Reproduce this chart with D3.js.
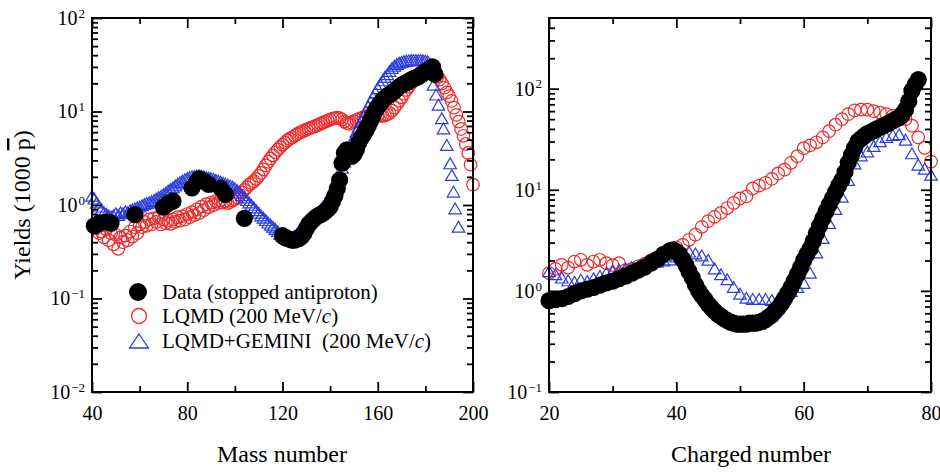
<!DOCTYPE html>
<html><head><meta charset="utf-8">
<script src="https://cdn.jsdelivr.net/npm/d3@7"></script>
<style>
html,body{margin:0;padding:0;background:#fff;}
svg{display:block;font-family:"Liberation Serif","Times New Roman",serif;}
</style></head>
<body><svg id="c" width="940" height="472"></svg>
<script>
// ---------- DATA ----------
// Left panel: mass number
const massTicks = [40, 80, 120, 160, 200];
const massMinorTicks = [60, 100, 140, 180];
const massYTicks = [0.01, 0.1, 1, 10, 100];
const massYTickExp = ["\u22122", "\u22121", "0", "1", "2"];

const dataMassA = [41,43,46,48,58,70,72,74,82,84,85,87,89,94,96,104,
 120,121,122,123,124,125,126,127,128,129,130,131,132,133,134,135,136,137,138,139,140,
 141,142,143,144,145,146,147,148,149,150,151,152,153,154,155,156,157,158,159,160,
 161,162,163,164,165,166,167,168,169,170,171,172,173,174,175,176,177,178,179,180,181,182,183,184];
const dataMassY = [0.60,0.64,0.66,0.64,0.79,0.95,1.04,1.10,1.52,1.78,1.90,1.80,1.66,1.52,1.30,0.72,
 0.47,0.45,0.44,0.43,0.42,0.42,0.43,0.44,0.46,0.50,0.56,0.62,0.66,0.70,0.74,0.77,0.79,0.82,0.86,0.90,0.96,
 1.10,1.25,1.50,1.85,2.80,3.60,3.90,3.60,3.30,3.50,3.90,4.60,5.20,5.70,6.30,7.00,8.00,9.00,10.2,11.2,
 12.2,13.2,14.0,14.6,15.2,15.8,16.6,17.5,18.4,19.2,19.8,20.4,21.0,21.8,22.5,23.0,23.6,24.5,25.5,26.5,27.5,28.5,30.0,25.0];

const lqmdMassA = [42,43,44,45,46,47,48,49,50,51,52,53,54,55,56,57,58,59,60,61,62,63,64,65,66,67,68,69,70,
 71,72,73,74,75,76,77,78,79,80,81,82,83,84,85,86,87,88,89,90,91,92,93,94,95,96,97,98,99,100,
 101,102,103,104,105,106,107,108,109,110,111,112,113,114,115,116,117,118,119,120,
 121,122,123,124,125,126,127,128,129,130,131,132,133,134,135,136,137,138,139,140,
 141,142,143,144,145,146,147,148,149,150,151,152,153,154,155,156,157,158,159,160,
 161,162,163,164,165,166,167,168,169,170,171,172,173,174,175,176,177,178,179,180,
 181,182,183,184,185,186,187,188,189,190,191,192,193,194,195,196,197,198,199,200];
const lqmdMassY = [0.58,0.50,0.52,0.45,0.55,0.42,0.50,0.38,0.48,0.34,0.45,0.40,0.47,0.42,0.52,0.46,0.58,0.50,0.62,0.58,0.66,0.60,0.70,0.62,0.72,0.66,0.74,0.62,0.70,
 0.64,0.68,0.63,0.70,0.66,0.74,0.68,0.76,0.70,0.80,0.74,0.84,0.78,0.90,0.82,0.96,0.88,1.02,0.95,1.06,1.00,1.10,1.05,1.12,1.06,1.10,1.05,1.08,1.12,1.15,
 1.20,1.28,1.36,1.45,1.55,1.65,1.72,1.80,1.90,2.05,2.20,2.40,2.65,2.90,3.15,3.40,3.65,3.90,4.15,4.40,
 4.65,4.90,5.10,5.30,5.50,5.70,5.90,6.05,6.20,6.40,6.55,6.70,6.85,7.00,7.20,7.40,7.60,7.80,8.00,8.20,
 8.40,8.50,8.60,8.50,8.20,7.80,7.50,7.40,7.60,7.90,8.10,8.30,8.50,8.70,8.90,9.00,9.10,9.20,9.20,9.10,
 9.00,9.00,9.10,9.30,9.60,10.2,11.0,12.0,13.0,14.2,15.5,17.0,18.5,20.0,21.5,23.0,24.5,26.0,27.5,28.5,
 29.0,28.0,26.5,25.0,23.5,22.0,20.0,18.0,16.0,14.6,13.0,11.0,9.2,7.8,6.5,5.5,4.5,3.6,2.7,1.65];

const gemMassA = [40,41,42,43,44,45,46,47,48,49,50,51,52,53,54,55,56,57,58,59,60,61,62,63,64,65,66,67,68,69,70,
 71,72,73,74,75,76,77,78,79,80,81,82,83,84,85,86,87,88,89,90,91,92,93,94,95,96,97,98,99,100,
 101,102,103,104,105,106,107,108,109,110,111,112,113,114,115,116,117,118,119,120,
 121,122,123,124,125,126,127,128,129,130,131,132,133,134,135,136,137,138,139,140,
 141,142,143,144,145,146,147,148,149,150,151,152,153,154,155,156,157,158,159,160,
 161,162,163,164,165,166,167,168,169,170,171,172,173,174,175,176,177,178,179,180,181,182,
 182.7,183.4,184.5,185.5,186.9,187.6,189,190.4,191.1,191.8,192.5,193.9];
const gemMassY = [1.20,1.12,1.02,0.92,0.86,0.80,0.77,0.74,0.72,0.74,0.78,0.75,0.80,0.78,0.82,0.80,0.84,0.86,0.88,0.90,0.92,0.95,0.98,1.00,1.02,1.05,1.08,1.12,1.16,1.20,1.25,
 1.30,1.36,1.42,1.48,1.55,1.62,1.68,1.74,1.80,1.85,1.90,1.94,1.96,1.98,1.98,1.96,1.94,1.90,1.88,1.85,1.82,1.78,1.74,1.70,1.66,1.62,1.58,1.54,1.50,1.45,
 1.38,1.30,1.22,1.15,1.08,1.02,0.96,0.90,0.84,0.79,0.74,0.70,0.66,0.62,0.59,0.56,0.53,0.50,0.47,0.45,
 0.43,0.42,0.42,0.43,0.45,0.47,0.50,0.53,0.56,0.60,0.64,0.68,0.72,0.76,0.80,0.85,0.92,0.99,1.07,1.15,
 1.30,1.50,1.70,2.00,2.40,2.80,3.30,3.80,4.40,5.00,5.80,6.60,7.50,8.50,9.60,10.8,12.2,13.7,15.3,17.0,
 18.8,20.6,22.4,24.0,26.0,28.0,29.5,30.8,31.8,32.5,33.0,33.4,33.7,34.0,34.0,34.0,34.0,34.0,33.8,33.5,33.0,31.0,
 24.5,18.5,14.5,11.3,8.1,6.3,4.2,2.67,2.0,1.33,0.88,0.56];

// Right panel: charge number
const zTicks = [20, 40, 60, 80];
const zMinorTicks = [30, 50, 70];
const zYTicks = [0.1, 1, 10, 100];
const zYTickExp = ["\u22121", "0", "1", "2"];

const dataZ = [20,21,22,23,24,25,26,27,28,29,30,31,32,33,34,35,36,37,38,39,39.5,40,40.5,41,41.5,42,42.5,43,43.5,44,44.5,45,45.5,46,46.5,47,47.5,48,48.5,49,49.5,
 50,50.5,51,51.5,52,52.5,53,53.5,54,54.5,55,55.5,56,56.5,57,57.5,58,58.5,59,59.5,60,60.5,61,61.5,62,62.5,63,63.5,64,64.5,65,65.5,66,66.5,67,67.5,68,68.5,69,69.5,
 70,70.5,71,71.5,72,72.5,73,73.5,74,74.5,75,75.5,76,76.5,77,77.5,78];
const dataZY = [0.80,0.82,0.84,0.88,0.94,1.00,1.04,1.08,1.14,1.20,1.25,1.32,1.40,1.50,1.60,1.72,1.88,2.05,2.30,2.50,2.55,2.45,2.30,2.05,1.80,1.55,1.35,1.15,1.00,0.90,0.82,0.74,0.68,0.63,0.59,0.56,0.53,0.51,0.49,0.48,0.47,
 0.47,0.47,0.47,0.48,0.48,0.48,0.49,0.50,0.52,0.55,0.58,0.63,0.68,0.75,0.84,0.95,1.08,1.25,1.45,1.70,2.0,2.3,2.6,3.1,3.7,4.4,5.2,6.1,7.1,8.2,9.5,11,12.5,15,18.5,22,26,30,32,34,
 36,37,38.5,40,41.5,43,44.5,46,48,50,52,56,62,75,95,110,123];

const lqmdZ = [20,21,22,23,24,25,26,27,28,29,30,31,32,33,34,35,36,37,38,39,40,41,42,43,44,45,46,47,48,49,50,
 51,52,53,54,55,56,57,58,59,60,61,62,63,64,65,66,67,68,69,70,71,72,73,74,75,76,77,78,79,80];
const lqmdZY = [1.5,1.65,1.81,1.7,1.95,2.03,1.81,1.95,2.03,1.88,1.80,1.88,1.6,1.65,1.75,1.85,2.0,2.15,2.35,2.5,2.7,2.85,3.2,3.6,4.3,4.9,5.4,5.9,6.6,7.4,8.2,
 8.6,10.3,11.0,11.7,12.8,14.5,15.8,18.5,21.5,25.8,27.5,29.5,33,38,44,50,56,61,62,62,60,58,56,54,52,50,43,33,26,19];

const gemZ = [20,21,22,23,24,25,26,27,28,29,30,31,32,33,34,35,36,37,38,39,40,41,42,43,44,45,46,47,48,49,50,
 51,52,53,54,55,56,57,58,59,60,61,62,63,64,65,66,67,68,69,70,71,72,73,74,75,76,77,78,79,80];
const gemZY = [1.5,1.4,1.3,1.22,1.18,1.24,1.2,1.28,1.35,1.45,1.5,1.55,1.6,1.65,1.7,1.76,1.82,1.88,1.92,1.96,2.1,2.3,2.35,2.25,2.15,1.95,1.6,1.4,1.25,1.05,0.9,
 0.82,0.80,0.80,0.80,0.78,0.80,0.88,0.96,1.05,1.15,1.45,2.3,3.2,4.5,6.2,8.2,12,17.5,21,23,26,29,32,33.5,34,30,22,17,15.5,13.5];

const legendLabels = ["Data (stopped antiproton)", "LQMD (200 MeV/", "LQMD+GEMINI  (200 MeV/"];

// ---------- DRAW ----------
const svg = d3.select("#c");
const RED = "#ee2a2a", BLUE = "#2a3ce0";

function logMinors(domain) {
  const out = [];
  for (let e = Math.floor(Math.log10(domain[0])); e < Math.ceil(Math.log10(domain[1])); e++) {
    for (let k = 2; k <= 9; k++) {
      const v = k * Math.pow(10, e);
      if (v > domain[0] && v < domain[1]) out.push(v);
    }
  }
  return out;
}

function tri(s) {
  const h = s * Math.sqrt(3) / 2;
  return `M0,${-h*2/3}L${s/2},${h/3}L${-s/2},${h/3}Z`;
}

function panel(cfg) {
  const {x, y, xMaj, xMin, yMaj, yExp, red, blue, black, xTitle, xTitleX} = cfg;
  const [x0, x1] = x.range();
  const [yb, yt] = y.range(); // yb = bottom pixel, yt = top pixel
  const g = svg.append("g");

  // markers: red, blue, black
  g.append("g").selectAll("circle").data(red[0].map((d, i) => [d, red[1][i]])).join("circle")
    .attr("cx", d => x(d[0])).attr("cy", d => y(d[1])).attr("r", 6.3)
    .attr("fill", "none").attr("stroke", RED).attr("stroke-width", 1.2);
  g.append("g").selectAll("path").data(blue[0].map((d, i) => [d, blue[1][i]])).join("path")
    .attr("transform", d => `translate(${x(d[0])},${y(d[1])})`).attr("d", tri(12.5))
    .attr("fill", "none").attr("stroke", BLUE).attr("stroke-width", 1.2);
  g.append("g").selectAll("circle").data(black[0].map((d, i) => [d, black[1][i]])).join("circle")
    .attr("cx", d => x(d[0])).attr("cy", d => y(d[1])).attr("r", 8.6).attr("fill", "#000");

  const axStyle = sel => {
    sel.select(".domain").remove();
    sel.selectAll("line").attr("stroke", "#000").attr("stroke-width", 1.8);
    sel.selectAll("text").attr("font-family", "Liberation Serif").attr("font-size", 20).attr("fill", "#000");
  };
  // bottom
  g.append("g").attr("transform", `translate(0,${yb})`)
    .call(d3.axisBottom(x).tickValues(xMaj).tickSizeInner(-10).tickSizeOuter(0).tickPadding(14).tickFormat(d3.format("d")))
    .call(axStyle);
  g.append("g").attr("transform", `translate(0,${yb})`)
    .call(d3.axisBottom(x).tickValues(xMin).tickSizeInner(-6).tickSizeOuter(0).tickFormat(""))
    .call(axStyle);
  // top
  g.append("g").attr("transform", `translate(0,${yt})`)
    .call(d3.axisTop(x).tickValues(xMaj).tickSizeInner(-10).tickSizeOuter(0).tickFormat(""))
    .call(axStyle);
  g.append("g").attr("transform", `translate(0,${yt})`)
    .call(d3.axisTop(x).tickValues(xMin).tickSizeInner(-6).tickSizeOuter(0).tickFormat(""))
    .call(axStyle);
  // left
  const yl = g.append("g").attr("transform", `translate(${x0},0)`)
    .call(d3.axisLeft(y).tickValues(yMaj).tickSizeInner(-10).tickSizeOuter(0).tickPadding(7).tickFormat(() => "10"))
    .call(axStyle);
  yl.selectAll(".tick text").each(function(d, i) {
    d3.select(this).append("tspan").attr("font-size", 13).attr("dy", "-0.55em").attr("dx", "1").text(yExp[i]);
  });
  g.append("g").attr("transform", `translate(${x0},0)`)
    .call(d3.axisLeft(y).tickValues(logMinors(y.domain())).tickSizeInner(-6).tickSizeOuter(0).tickFormat(""))
    .call(axStyle);
  // right
  g.append("g").attr("transform", `translate(${x1},0)`)
    .call(d3.axisRight(y).tickValues(yMaj).tickSizeInner(-10).tickSizeOuter(0).tickFormat(""))
    .call(axStyle);
  g.append("g").attr("transform", `translate(${x1},0)`)
    .call(d3.axisRight(y).tickValues(logMinors(y.domain())).tickSizeInner(-6).tickSizeOuter(0).tickFormat(""))
    .call(axStyle);

  // frame
  g.append("rect").attr("x", x0).attr("y", yt).attr("width", x1 - x0).attr("height", yb - yt)
    .attr("fill", "none").attr("stroke", "#000").attr("stroke-width", 2);

  // x title
  g.append("text").attr("x", xTitleX).attr("y", 462).attr("text-anchor", "middle")
    .attr("font-size", 24).attr("fill", "#000").text(xTitle);
}

const xMass = d3.scaleLinear([40, 200], [92, 473]);
const yMass = d3.scaleLog([0.01, 100], [392, 18]);
const xZ = d3.scaleLinear([20, 80], [549, 931]);
const yZ = d3.scaleLog([0.1, 500], [392, 18]);

panel({x: xMass, y: yMass, xMaj: massTicks, xMin: massMinorTicks, yMaj: massYTicks, yExp: massYTickExp,
  red: [lqmdMassA, lqmdMassY], blue: [gemMassA, gemMassY], black: [dataMassA, dataMassY],
  xTitle: "Mass number", xTitleX: 282});
panel({x: xZ, y: yZ, xMaj: zTicks, xMin: zMinorTicks, yMaj: zYTicks, yExp: zYTickExp,
  red: [lqmdZ, lqmdZY], blue: [gemZ, gemZY], black: [dataZ, dataZY],
  xTitle: "Charged number", xTitleX: 751});

// y title
const ytl = svg.append("text").attr("transform", "translate(30,205) rotate(-90)")
  .attr("text-anchor", "middle").attr("font-size", 24).attr("fill", "#000");
ytl.append("tspan").text("Yields (1000 ");
ytl.append("tspan").attr("text-decoration", "overline").style("text-decoration", "overline").text("p");
ytl.append("tspan").text(")");

// legend
const lg = svg.append("g").attr("font-size", 21).attr("fill", "#000");
const ly = [292, 316, 341];
lg.append("circle").attr("cx", 138).attr("cy", ly[0]).attr("r", 9).attr("fill", "#000");
lg.append("circle").attr("cx", 139).attr("cy", ly[1]).attr("r", 7.5).attr("fill", "none").attr("stroke", RED).attr("stroke-width", 1.3);
lg.append("path").attr("transform", `translate(139,${ly[2] + 1})`).attr("d", "M0,-8L9.5,6L-9.5,6Z")
  .attr("fill", "none").attr("stroke", BLUE).attr("stroke-width", 1.3);
legendLabels.forEach((t, i) => {
  const tx = lg.append("text").attr("x", 162).attr("y", ly[i] + 7).style("white-space", "pre");
  tx.append("tspan").text(t);
  if (i > 0) {
    tx.append("tspan").attr("font-style", "italic").text("c");
    tx.append("tspan").text(")");
  }
});
</script>
</body></html>
